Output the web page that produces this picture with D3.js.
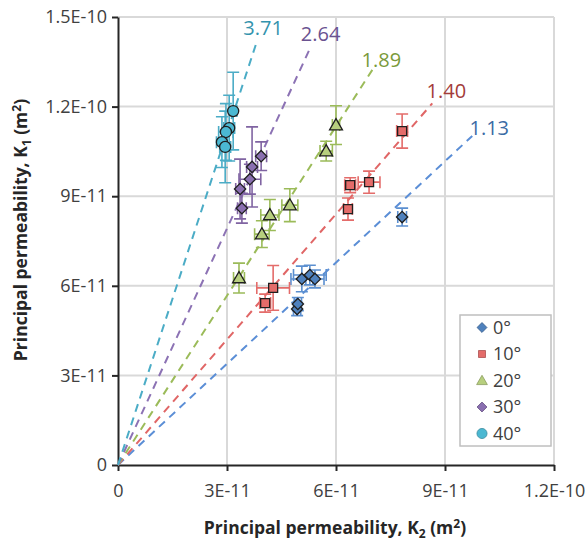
<!DOCTYPE html>
<html>
<head>
<meta charset="utf-8">
<script src="https://cdn.jsdelivr.net/npm/d3@7"></script>
<style>
  body { margin: 0; background: #fff; }
  text { font-family: "Open Sans", sans-serif; }
</style>
</head>
<body>
<svg id="chart" width="588" height="543"></svg>
<script>
// series labels
const angles = ["0°", "10°", "20°", "30°", "40°"];

// K2 (x) and K1 (y) values, with error half-widths (m²)
const k2_0  = [5.06e-11, 5.28e-11, 5.42e-11, 4.93e-11, 4.95e-11, 7.82e-11];
const k1_0  = [6.23e-11, 6.36e-11, 6.23e-11, 5.22e-11, 5.39e-11, 8.30e-11];
const ex_0  = [0.30e-11, 0.45e-11, 0.25e-11, 0.10e-11, 0.10e-11, 0.12e-11];
const ey_0  = [0.43e-11, 0.33e-11, 0.30e-11, 0.22e-11, 0.22e-11, 0.30e-11];

const k2_10 = [7.82e-11, 6.91e-11, 6.39e-11, 6.33e-11, 4.27e-11, 4.05e-11];
const k1_10 = [11.18e-11, 9.47e-11, 9.37e-11, 8.57e-11, 5.93e-11, 5.42e-11];
const ex_10 = [0.15e-11, 0.30e-11, 0.15e-11, 0.12e-11, 0.45e-11, 0.15e-11];
const ey_10 = [0.57e-11, 0.37e-11, 0.25e-11, 0.37e-11, 0.75e-11, 0.30e-11];

const k2_20 = [6.00e-11, 5.73e-11, 4.73e-11, 4.18e-11, 3.96e-11, 3.33e-11];
const k1_20 = [11.38e-11, 10.51e-11, 8.70e-11, 8.37e-11, 7.73e-11, 6.26e-11];
const ex_20 = [0.10e-11, 0.17e-11, 0.22e-11, 0.25e-11, 0.20e-11, 0.15e-11];
const ey_20 = [0.65e-11, 0.33e-11, 0.55e-11, 0.52e-11, 0.45e-11, 0.50e-11];

const k2_30 = [3.94e-11, 3.69e-11, 3.63e-11, 3.36e-11, 3.41e-11];
const k1_30 = [10.34e-11, 9.98e-11, 9.57e-11, 9.24e-11, 8.60e-11];
const ex_30 = [0.15e-11, 0.15e-11, 0.30e-11, 0.12e-11, 0.12e-11];
const ey_30 = [0.48e-11, 1.34e-11, 0.50e-11, 1.00e-11, 0.50e-11];

const k2_40 = [3.17e-11, 3.06e-11, 2.97e-11, 2.86e-11, 2.95e-11];
const k1_40 = [11.85e-11, 11.28e-11, 11.15e-11, 10.81e-11, 10.65e-11];
const ex_40 = [0.10e-11, 0.15e-11, 0.20e-11, 0.15e-11, 0.15e-11];
const ey_40 = [1.30e-11, 1.10e-11, 0.95e-11, 0.85e-11, 1.20e-11];

// anisotropy ratio lines K1 = r * K2, drawn from origin to K2 end
const ratios   = [1.13, 1.40, 1.89, 2.64, 3.71];
const ratioEnd = [9.75e-11, 8.65e-11, 7.0e-11, 5.3e-11, 3.8e-11];
const ratioLabels = ["1.13", "1.40", "1.89", "2.64", "3.71"];

// ticks
const xTicks = [0, 3e-11, 6e-11, 9e-11, 1.2e-10];
const xTickLabels = ["0", "3E-11", "6E-11", "9E-11", "1.2E-10"];
const yTicks = [0, 3e-11, 6e-11, 9e-11, 1.2e-10, 1.5e-10];
const yTickLabels = ["0", "3E-11", "6E-11", "9E-11", "1.2E-10", "1.5E-10"];

const series = [
  {name: angles[0], x: k2_0,  y: k1_0,  ex: ex_0,  ey: ey_0,  sym: "diamond",  fill: "#4F81BD", bar: "#5B8FD0"},
  {name: angles[1], x: k2_10, y: k1_10, ex: ex_10, ey: ey_10, sym: "square",   fill: "#E46C6A", bar: "#E46C6A"},
  {name: angles[2], x: k2_20, y: k1_20, ex: ex_20, ey: ey_20, sym: "triangle", fill: "#B7CF7E", bar: "#9BBB59"},
  {name: angles[3], x: k2_30, y: k1_30, ex: ex_30, ey: ey_30, sym: "diamond",  fill: "#8A6FB0", bar: "#8064A2"},
  {name: angles[4], x: k2_40, y: k1_40, ex: ex_40, ey: ey_40, sym: "circle",   fill: "#4BB8D2", bar: "#4BACC6"}
];
const lineColors  = ["#5B8ED6", "#E06666", "#9BBB59", "#8C72B4", "#4BACC6"];
const labelColors = ["#3B6BA5", "#A33C3A", "#7A9A3A", "#6A5290", "#3393AD"];
const labelShift  = [[17, -1], [14, -5], [9, -3], [10, -6], [7, -9]];

const margin = {top: 17, right: 34, bottom: 78, left: 118};
const W = 588, H = 543;
const w = W - margin.left - margin.right, h = H - margin.top - margin.bottom;

const svg = d3.select("#chart");
const g = svg.append("g").attr("transform", `translate(${margin.left},${margin.top})`);

const x = d3.scaleLinear().domain([0, 1.2e-10]).range([0, w]);
const y = d3.scaleLinear().domain([0, 1.5e-10]).range([h, 0]);

// gridlines
g.append("g").selectAll("line").data(yTicks.slice(1)).join("line")
  .attr("x1", 0).attr("x2", w)
  .attr("y1", d => y(d)).attr("y2", d => y(d))
  .attr("stroke", "#D9D9D9").attr("stroke-width", 2);
g.append("g").selectAll("line").data(xTicks.slice(1)).join("line")
  .attr("x1", d => x(d)).attr("x2", d => x(d))
  .attr("y1", 0).attr("y2", h)
  .attr("stroke", "#D9D9D9").attr("stroke-width", 2);

// axes
const xAxis = g.append("g").attr("transform", `translate(0,${h})`)
  .call(d3.axisBottom(x).tickValues(xTicks).tickFormat((d, i) => xTickLabels[i]).tickSize(6).tickPadding(13).tickSizeOuter(0));
const yAxis = g.append("g")
  .call(d3.axisLeft(y).tickValues(yTicks).tickFormat((d, i) => yTickLabels[i]).tickSize(6).tickPadding(5).tickSizeOuter(0));
[xAxis, yAxis].forEach(a => {
  a.select(".domain").attr("stroke", "#262626").attr("stroke-width", 2);
  a.selectAll(".tick line").attr("stroke", "#262626").attr("stroke-width", 2);
  a.selectAll(".tick text").attr("fill", "#404040").style("font-size", "18px")
   .style("font-family", "'Open Sans', sans-serif");
});

// ratio lines
g.append("g").selectAll("line").data(ratios).join("line")
  .attr("x1", x(0)).attr("y1", y(0))
  .attr("x2", (d, i) => x(ratioEnd[i]))
  .attr("y2", (d, i) => y(ratioEnd[i] * d))
  .attr("stroke", (d, i) => lineColors[i])
  .attr("stroke-width", 2)
  .attr("stroke-dasharray", "8,6");
g.append("g").selectAll("text").data(ratios).join("text")
  .attr("x", (d, i) => x(ratioEnd[i]) + labelShift[i][0])
  .attr("y", (d, i) => y(ratioEnd[i] * d) + labelShift[i][1])
  .attr("text-anchor", "middle")
  .attr("fill", (d, i) => labelColors[i])
  .style("font-size", "20px")
  .text((d, i) => ratioLabels[i]);

function symbolPath(type, s) {
  if (type === "diamond") return d3.symbol(d3.symbolSquare, s * s)();
  if (type === "square") return d3.symbol(d3.symbolSquare, s * s)();
  if (type === "triangle") return d3.symbol(d3.symbolTriangle, s * s * 0.5)();
  return d3.symbol(d3.symbolCircle, s * s * 0.8)();
}

const cap = 6;
series.forEach(s => {
  const pts = s.x.map((v, i) => ({x: v, y: s.y[i], ex: s.ex[i], ey: s.ey[i]}));
  const eb = g.append("g").attr("stroke", s.bar).attr("stroke-width", 1.6).attr("fill", "none");
  pts.forEach(p => {
    const cx = x(p.x), cy = y(p.y);
    const yt = y(p.y + p.ey), yb = y(p.y - p.ey);
    const xl = x(p.x - p.ex), xr = x(p.x + p.ex);
    eb.append("path").attr("d",
      `M${cx},${yt}V${yb}M${cx - cap},${yt}H${cx + cap}M${cx - cap},${yb}H${cx + cap}` +
      `M${xl},${cy}H${xr}M${xl},${cy - cap}V${cy + cap}M${xr},${cy - cap}V${cy + cap}`);
  });
  const size = s.sym === "square" ? 9 : s.sym === "triangle" ? 12 : s.sym === "circle" ? 11 : 8;
  g.append("g").selectAll("path").data(pts).join("path")
    .attr("d", symbolPath(s.sym, size))
    .attr("transform", d => `translate(${x(d.x)},${y(d.y)})` + (s.sym === "diamond" ? " rotate(45)" : "") + (s.sym === "triangle" ? " translate(0,1)" : ""))
    .attr("fill", s.fill)
    .attr("stroke", "#1F1F1F")
    .attr("stroke-width", 1.3);
});

// legend
const lg = svg.append("g").attr("transform", "translate(460,315)");
lg.append("rect").attr("width", 91).attr("height", 131)
  .attr("fill", "#fff").attr("stroke", "#BFBFBF").attr("stroke-width", 1.5);
series.forEach((s, i) => {
  const row = lg.append("g").attr("transform", `translate(22,${12.5 + i * 26.5})`);
  const size = s.sym === "square" ? 7 : s.sym === "triangle" ? 10 : s.sym === "circle" ? 10 : 7;
  row.append("path")
    .attr("d", symbolPath(s.sym, size))
    .attr("transform", (s.sym === "diamond" ? "rotate(45)" : "") + (s.sym === "triangle" ? " translate(0,1)" : ""))
    .attr("fill", s.fill)
    .attr("stroke", d3.color(s.fill).darker(0.8))
    .attr("stroke-width", 0.8);
  row.append("text").attr("x", 11).attr("dy", "0.36em")
    .attr("fill", "#404040").style("font-size", "18px")
    .text(s.name);
});

// axis titles
svg.append("text")
  .attr("x", 335).attr("y", 534)
  .attr("text-anchor", "middle").attr("fill", "#262626")
  .style("font-size", "17.5px").style("font-weight", "bold")
  .html('Principal permeability, K<tspan dy="4" font-size="12">2</tspan><tspan dy="-4"> (m</tspan><tspan dy="-6" font-size="12">2</tspan><tspan dy="6">)</tspan>');
svg.append("text")
  .attr("transform", "translate(27,230) rotate(-90)")
  .attr("text-anchor", "middle").attr("fill", "#262626")
  .style("font-size", "17.5px").style("font-weight", "bold")
  .html('Principal permeability, K<tspan dy="4" font-size="12">1</tspan><tspan dy="-4"> (m</tspan><tspan dy="-6" font-size="12">2</tspan><tspan dy="6">)</tspan>');
</script>
</body>
</html>
